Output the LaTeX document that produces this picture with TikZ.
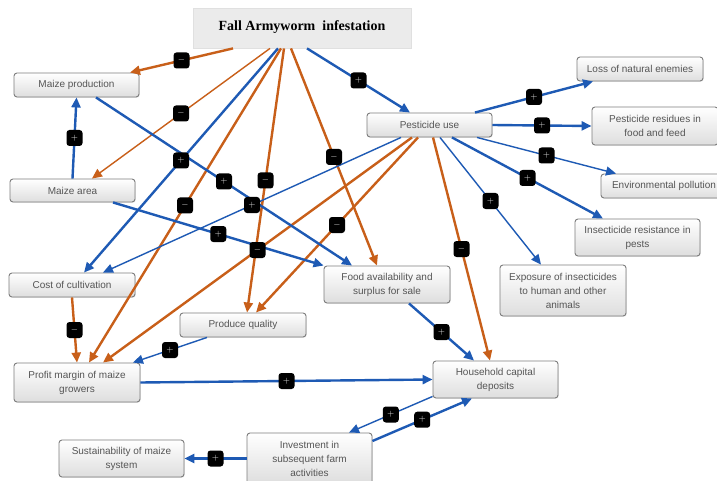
\documentclass[tikz,border=0pt]{standalone}
\usepackage{fontspec}
\setmainfont{Liberation Sans}
\newfontfamily\titlefont{Liberation Serif}
\usetikzlibrary{arrows.meta,shadows}
\definecolor{eblue}{RGB}{30,90,180}
\definecolor{eorange}{RGB}{200,95,25}
\definecolor{boxtext}{RGB}{85,85,85}
\definecolor{boxline}{RGB}{125,125,125}
\tikzset{
  box/.style={draw=boxline, line width=0.9pt, rounded corners=3pt, top color=white, bottom color=black!13,
    text=boxtext, font=\fontsize{10}{14}\selectfont, align=center, inner sep=2pt,
    drop shadow={opacity=0.18, shadow xshift=0.8pt, shadow yshift=-0.8pt}},
  titlebox/.style={draw=black!12, fill=black!8, line width=0.8pt, minimum width=218pt, minimum height=40pt,
    font=\titlefont\bfseries\fontsize{14}{14}\selectfont,
    drop shadow={opacity=0.15, shadow xshift=0.8pt, shadow yshift=-0.8pt}},
  poslink/.style={draw=eblue, -{Triangle[length=10pt,width=9pt]}},
  neglink/.style={draw=eorange, -{Triangle[length=10pt,width=9pt]}},
  thicklink/.style={line width=2.4pt},
  thinlink/.style={line width=1.4pt},
  sign/.style={fill=black, rounded corners=3pt, minimum size=16pt, inner sep=0pt, text=white!92!black,
    font=\fontsize{9}{9}\selectfont\bfseries},
}
\begin{document}
\begin{tikzpicture}[x=1pt,y=-1pt]
\useasboundingbox (0,0) rectangle (717,481);
\clip (0,0) rectangle (717,481);
\fill[white] (0,0) rectangle (717,481);

% nodes
\node[titlebox] (faw) at (302,28) {\raisebox{5pt}{Fall Armyworm~ infestation}};
\node[box, minimum width=125pt, minimum height=24pt] (mprod) at (76.5,85) {Maize production};
\node[box, minimum width=125pt, minimum height=23pt] (marea) at (72.5,190.5) {Maize area};
\node[box, minimum width=126pt, minimum height=24pt] (cost) at (72,285) {Cost of cultivation};
\node[box, minimum width=126pt, minimum height=39pt] (profit) at (77,382.5) {Profit margin of maize\\growers};
\node[box, minimum width=126pt, minimum height=24pt] (pq) at (243,325) {Produce quality};
\node[box, minimum width=126pt, minimum height=37pt] (food) at (387,284.5) {Food availability and\\surplus for sale};
\node[box, minimum width=125pt, minimum height=24pt] (pest) at (429.5,125) {Pesticide use};
\node[box, minimum width=126pt, minimum height=24pt] (loss) at (640,69) {Loss of natural enemies};
\node[box, minimum width=126pt, minimum height=38pt] (resid) at (655,126) {Pesticide residues in\\food and feed};
\node[box, minimum width=126pt, minimum height=24pt] (env) at (664,186) {Environmental pollution};
\node[box, minimum width=125pt, minimum height=37pt] (resist) at (637.5,237.5) {Insecticide resistance in\\pests};
\node[box, minimum width=126pt, minimum height=51pt] (expo) at (563,290.5) {Exposure of insecticides\\to human and other\\animals};
\node[box, minimum width=125pt, minimum height=37pt] (house) at (495.5,379.5) {Household capital\\deposits};
\node[box, minimum width=125pt, minimum height=51pt] (invest) at (309.5,458.5) {Investment in\\subsequent farm\\activities};
\node[box, minimum width=125pt, minimum height=37pt] (sust) at (121.5,458.5) {Sustainability of maize\\system};

% connectors
\draw[neglink, thicklink] ([xshift=-69pt]faw.south) -- coordinate[pos=.5] (s1) ([xshift=53.5pt]mprod.north);
\draw[neglink, thinlink] ([xshift=-32pt]faw.south) -- coordinate[pos=.5] (s2) ([xshift=19.5pt]marea.north);
\draw[poslink, thicklink] ([xshift=-24pt]faw.south) -- coordinate[pos=.5] (s3) ([xshift=12pt]cost.north);
\draw[neglink, thicklink] ([xshift=-21pt]faw.south) -- coordinate[pos=.5] (s4) ([xshift=12pt]profit.north);
\draw[neglink, thicklink] ([xshift=-18pt]faw.south) -- coordinate[pos=.5] (s5) ([xshift=4pt]pq.north);
\draw[neglink, thicklink] ([xshift=-11pt]faw.south) -- coordinate[pos=.5] (s6) ([xshift=-10pt]food.north);
\draw[poslink, thicklink] ([xshift=5pt]faw.south) -- coordinate[pos=.5] (s7) ([xshift=-19.5pt]pest.north);
\draw[poslink, thicklink] ([xshift=45.5pt]pest.north) -- coordinate[pos=.5] (s8) ([xshift=-47pt]loss.south);
\draw[poslink, thicklink] (pest.east) -- coordinate[pos=.5] (s9) (resid.west);
\draw[poslink, thinlink] ([xshift=47.5pt]pest.south) -- coordinate[pos=.5] (s10) ([xshift=-48pt]env.north);
\draw[poslink, thicklink] ([xshift=22.5pt]pest.south) -- coordinate[pos=.5] (s11) ([xshift=-34.5pt]resist.north);
\draw[poslink, thinlink] ([xshift=10.5pt]pest.south) -- coordinate[pos=.5] (s12) ([xshift=-22pt]expo.north);
\draw[neglink, thicklink] ([xshift=3.5pt]pest.south) -- coordinate[pos=.5] (s13) ([xshift=-5.5pt]house.north);
\draw[poslink, thinlink] ([xshift=-28.5pt]pest.south) -- coordinate[pos=.5] (s14) ([xshift=31pt]cost.north);
\draw[neglink, thicklink] ([xshift=-17.5pt]pest.south) -- coordinate[pos=.5] (s15) ([xshift=26pt]profit.north);
\draw[neglink, thicklink] ([xshift=-11.5pt]pest.south) -- coordinate[pos=.5] (s16) ([xshift=13pt]pq.north);
\draw[poslink, thicklink] ([xshift=19.5pt]mprod.south) -- coordinate[pos=.5] (s17) ([xshift=-35pt]food.north);
\draw[poslink, thicklink] (marea.north) -- coordinate[pos=.5] (s18) (mprod.south);
\draw[poslink, thicklink] ([xshift=40.5pt]marea.south) -- coordinate[pos=.5] (s19) (food.north west);
\draw[neglink, thicklink] (cost.south) -- coordinate[pos=.5] (s20) (profit.north);
\draw[poslink, thinlink] ([xshift=-36pt]pq.south) -- coordinate[pos=.5] (s21) ([xshift=56pt]profit.north);
\draw[poslink, thicklink] (profit.east) -- coordinate[pos=.5] (s22) (house.west);
\draw[poslink, thicklink] ([xshift=22pt]food.south) -- coordinate[pos=.5] (s23) ([xshift=-21.5pt]house.north);
\draw[poslink, thinlink] ([yshift=2pt]house.south west) -- coordinate[pos=.5] (s24) ([xshift=39.5pt]invest.north);
\draw[poslink, thicklink] ([yshift=17.5pt]invest.east) -- coordinate[pos=.5] (s25) ([xshift=-23.5pt]house.south);
\draw[poslink, thicklink] (invest.west) -- coordinate[pos=.5] (s26) (sust.east);

% polarity signs
\foreach \i in {1,2,4,5,6,13,15,16,20} {\node[sign] (n\i) at (s\i) {$-$};}
\foreach \i in {3,7,8,9,10,11,12,14,17,18,19,21,22,23,24,25,26} {\node[sign] (n\i) at (s\i) {$+$};}
\end{tikzpicture}
\end{document}
